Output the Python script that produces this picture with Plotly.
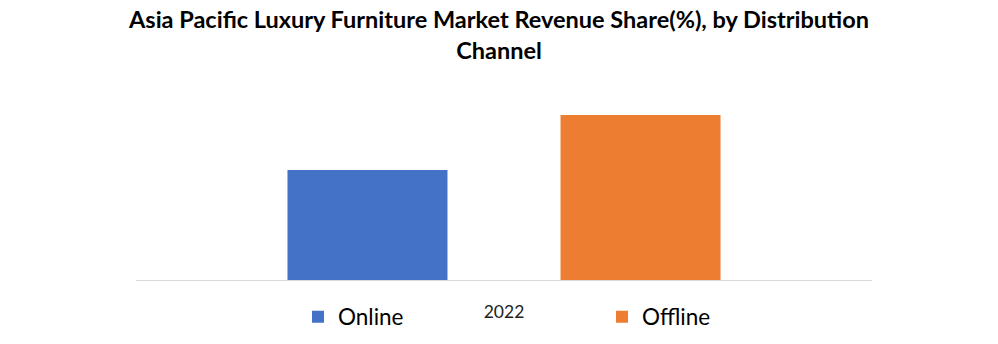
import plotly.graph_objects as go

categories = ["2022"]
series_names = ["Online", "Offline"]
online_values = [40]
offline_values = [60]
colors = ["#4472C4", "#ED7D31"]

W, H = 998, 344
plot_left, plot_right = 136, 872
plot_top, plot_bottom = 88, 280

fig = go.Figure()
for name, vals, col in zip(series_names, [online_values, offline_values], colors):
    fig.add_trace(go.Bar(x=categories, y=vals, name=name, marker_color=col,
                         marker_line_width=0))

plot_h = plot_bottom - plot_top
fig.update_layout(
    width=W, height=H,
    margin=dict(l=plot_left, r=W - plot_right, t=plot_top, b=H - plot_bottom, pad=0,
                autoexpand=False),
    paper_bgcolor="white", plot_bgcolor="white",
    barmode="group", bargap=0.258, bargroupgap=0.414,
    title=dict(text="<b>Asia Pacific Luxury Furniture Market Revenue Share(%), by Distribution<br>Channel</b>",
               x=0.5, xanchor="center", y=1 - 28 / H, yanchor="middle",
               font=dict(family="Lato", size=23.5, color="black")),
    xaxis=dict(showline=True, linecolor="#d9d9d9", linewidth=1, showgrid=False,
               ticks="", tickfont=dict(family="Lato", size=17.5, color="#222"),
               ticklabelstandoff=16),
    yaxis=dict(visible=False, range=[0, 60 * plot_h / 165], showgrid=False),
    legend=dict(orientation="h", x=(298 - plot_left) / (plot_right - plot_left), xanchor="left",
                y=-(317 - plot_bottom) / plot_h, yanchor="middle",
                entrywidth=259, font=dict(family="Lato", size=22.5, color="black"),
                bgcolor="rgba(0,0,0,0)"),
    showlegend=True,
)

fig.write_html("out.html")
